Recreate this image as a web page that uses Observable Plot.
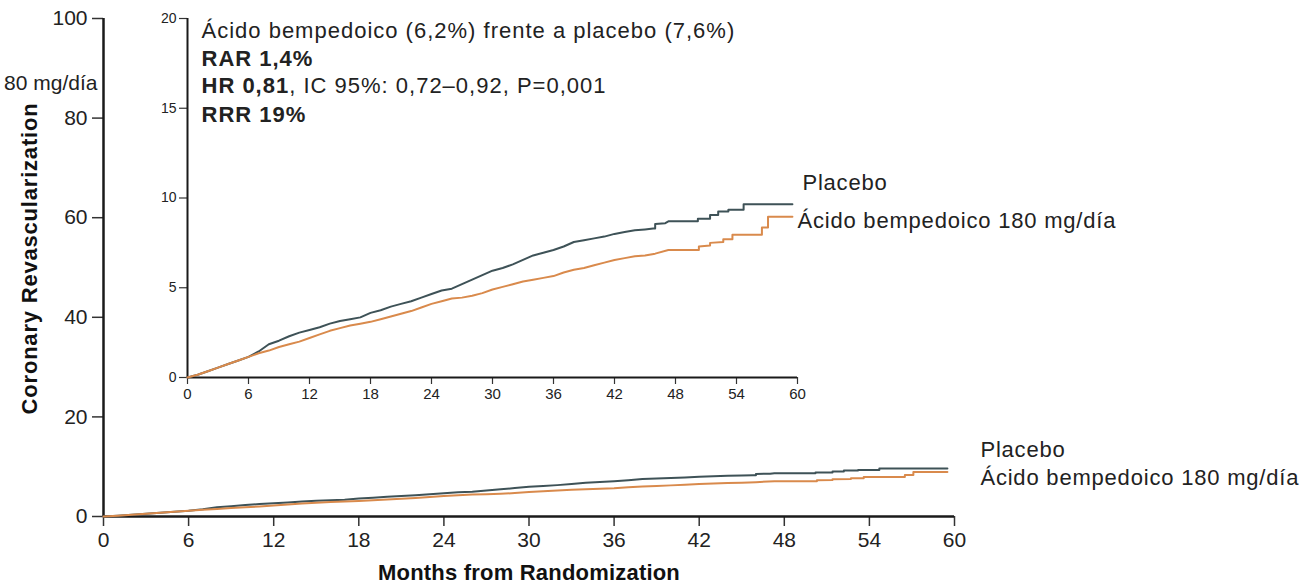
<!DOCTYPE html>
<html>
<head>
<meta charset="utf-8">
<script src="https://cdn.jsdelivr.net/npm/d3@7"></script>
<script src="https://cdn.jsdelivr.net/npm/@observablehq/plot@0.6"></script>
<style>
  html, body { margin: 0; padding: 0; background: #fff; }
  #wrap { position: relative; width: 1312px; height: 584px; overflow: hidden; }
  #wrap svg { position: absolute; left: 0; top: 0; overflow: visible; }
  #wrap g[aria-label="text"] text { letter-spacing: 0.8px; }
</style>
</head>
<body>
<div id="wrap"></div>
<script>
// ---- Data ----
const seriesNames = ["Placebo", "Ácido bempedoico 180 mg/día"];
const seriesColors = ["#3e5257", "#d98a4c"];

// months and cumulative incidence (%); repeated months mark vertical steps
const placeboMonths = [0,1,2,3,4,5,6,7,8,9,10,11,12,13,14,15,16,17,18,19,20,21,22,23,24,25,26,27,28,29,30,31,32,33,34,35,36,37,38,39,40,41,42,43,44,45,45.8,46,46,47,47.3,50.2,50.2,51.4,51.4,52.2,52.2,53.2,53.2,54.7,54.7,59.5];
const placeboValues = [0,0.15,0.35,0.55,0.75,0.95,1.15,1.45,1.85,2.05,2.3,2.5,2.65,2.8,3.0,3.15,3.25,3.35,3.6,3.75,3.95,4.1,4.25,4.45,4.65,4.85,4.95,5.2,5.45,5.7,5.95,6.1,6.3,6.55,6.8,6.95,7.1,7.3,7.55,7.65,7.75,7.85,8.0,8.1,8.2,8.25,8.3,8.3,8.55,8.6,8.7,8.7,8.85,8.85,9.05,9.05,9.25,9.25,9.35,9.35,9.65,9.65];

const bempMonths = [0,1,2,3,4,5,6,7,8,9,10,11,12,13,14,15,16,17,18,19,20,21,22,23,24,25,26,27,28,29,30,31,32,33,34,35,36,37,38,39,40,41,42,43,44,45,46,47.3,50.3,50.3,51.4,51.4,52.7,52.7,53.6,53.6,56.5,56.5,57.1,57.1,59.5];
const bempValues = [0,0.15,0.35,0.55,0.75,0.95,1.15,1.35,1.5,1.7,1.85,2.0,2.2,2.4,2.6,2.75,2.9,3.0,3.1,3.25,3.4,3.55,3.7,3.9,4.1,4.25,4.4,4.45,4.55,4.7,4.9,5.05,5.2,5.35,5.45,5.55,5.65,5.85,6.0,6.1,6.25,6.4,6.55,6.65,6.75,6.8,6.9,7.1,7.1,7.3,7.35,7.5,7.55,7.7,7.7,7.95,7.95,8.35,8.35,8.95,8.95];

const monthTicks = [0,6,12,18,24,30,36,42,48,54,60];
const mainYTicks = [0,20,40,60,80,100];
const insetYTicks = [0,5,10,15,20];

const yAxisTitle = "Coronary Revascularization";
const xAxisTitle = "Months from Randomization";
const clippedLabel = "80 mg/día";

const statLine1 = "Ácido bempedoico (6,2%) frente a placebo (7,6%)";
const statRAR = "RAR 1,4%";
const statHRBold = "HR 0,81";
const statHRRest = ", IC 95%: 0,72–0,92, P=0,001";
const statRRR = "RRR 19%";

// ---- Build tables ----
const rows = [];
placeboMonths.forEach((m, i) => rows.push({series: seriesNames[0], month: m, value: placeboValues[i]}));
bempMonths.forEach((m, i) => rows.push({series: seriesNames[1], month: m, value: bempValues[i]}));
const ends = [
  {series: seriesNames[0], month: placeboMonths.at(-1), value: placeboValues.at(-1)},
  {series: seriesNames[1], month: bempMonths.at(-1), value: bempValues.at(-1)}
];

const FONT = "'Liberation Sans', Arial, Helvetica, sans-serif";
const color = {domain: seriesNames, range: seriesColors};
const STAT_FS = 22, STAT_LS = 1;

// width of the bold "HR 0,81" run, to place the regular rest after it
const ctx = document.createElement("canvas").getContext("2d");
ctx.font = `bold ${STAT_FS}px 'Liberation Sans'`;
const hrBoldWidth = ctx.measureText(statHRBold).width + STAT_LS * statHRBold.length;

// ---- Main chart ----
const main = Plot.plot({
  width: 1312, height: 584,
  marginLeft: 103, marginRight: 358, marginTop: 18, marginBottom: 68,
  style: {fontFamily: FONT, background: "transparent", color: "#222"},
  x: {domain: [0, 60]},
  y: {domain: [0, 100]},
  color,
  marks: [
    Plot.axisX({ticks: monthTicks, tickSize: 10, tickPadding: 6, fontSize: 21, label: null, stroke: "#333", strokeWidth: 1.5}),
    Plot.axisY({ticks: mainYTicks, tickSize: 11, tickPadding: 5, fontSize: 21, label: null, stroke: "#333", strokeWidth: 1.5}),
    Plot.ruleX([0], {stroke: "#1a1a1a", strokeWidth: 2.5}),
    Plot.ruleY([0], {stroke: "#1a1a1a", strokeWidth: 2.5}),
    Plot.line(rows, {x: "month", y: "value", z: "series", stroke: "series", strokeWidth: 2}),
    Plot.text(ends, {x: "month", y: "value", text: "series", textAnchor: "start", dx: 33,
      fontSize: 22, fill: "#222", filter: (d) => d.series === seriesNames[0], dy: -18}),
    Plot.text(ends, {x: "month", y: "value", text: "series", textAnchor: "start", dx: 33,
      fontSize: 22, fill: "#222", filter: (d) => d.series === seriesNames[1], dy: 6}),
    Plot.text([yAxisTitle], {frameAnchor: "left", dx: -74, dy: -9, rotate: -90, textAnchor: "middle", lineAnchor: "middle", fontSize: 22, fontWeight: "bold", fill: "#111"}),
    Plot.text([xAxisTitle], {frameAnchor: "bottom", dy: 56, textAnchor: "middle", lineAnchor: "middle", fontSize: 22, fontWeight: "bold", fill: "#111"}),
    Plot.text([clippedLabel], {frameAnchor: "top-left", dx: -6, dy: 65, textAnchor: "end", lineAnchor: "middle", fontSize: 21, fill: "#222"})
  ]
});

// ---- Inset chart ----
const statOpts = (dy, extra = {}) => ({frameAnchor: "top-left", dx: 14, dy, textAnchor: "start", lineAnchor: "middle", fontSize: STAT_FS, fill: "#222", ...extra});
const inset = Plot.plot({
  width: 1312, height: 584,
  marginLeft: 187, marginRight: 515, marginTop: 18, marginBottom: 207,
  style: {fontFamily: FONT, background: "transparent", color: "#222"},
  x: {domain: [0, 60]},
  y: {domain: [0, 20]},
  color,
  marks: [
    Plot.axisX({ticks: monthTicks, tickSize: 7, tickPadding: 4, fontSize: 15, label: null, stroke: "#333", strokeWidth: 1.2}),
    Plot.axisY({ticks: insetYTicks, tickSize: 8, tickPadding: 3, fontSize: 14, label: null, stroke: "#333", strokeWidth: 1.2}),
    Plot.ruleX([0], {stroke: "#1a1a1a", strokeWidth: 2}),
    Plot.ruleY([0], {stroke: "#1a1a1a", strokeWidth: 2}),
    Plot.line(rows, {x: "month", y: "value", z: "series", stroke: "series", strokeWidth: 2}),
    Plot.text(ends, {x: "month", y: "value", text: "series", textAnchor: "start", dx: 10,
      fontSize: 22, fill: "#222", filter: (d) => d.series === seriesNames[0], dy: -21}),
    Plot.text(ends, {x: "month", y: "value", text: "series", textAnchor: "start", dx: 5,
      fontSize: 22, fill: "#222", filter: (d) => d.series === seriesNames[1], dy: 4}),
    Plot.text([statLine1], statOpts(12)),
    Plot.text([statRAR], statOpts(40, {fontWeight: "bold"})),
    Plot.text([statHRBold], statOpts(67, {fontWeight: "bold"})),
    Plot.text([statHRRest], statOpts(67, {dx: 14 + hrBoldWidth})),
    Plot.text([statRRR], statOpts(96, {fontWeight: "bold"}))
  ]
});

const wrap = document.getElementById("wrap");
wrap.appendChild(main);
wrap.appendChild(inset);
// per-text tracking tweaks
const statTexts = new Set([statLine1, statRAR, statHRBold, statHRRest, statRRR]);
d3.select(inset).selectAll('g[aria-label="text"] text').each(function() {
  if (statTexts.has(this.textContent)) this.style.letterSpacing = STAT_LS + "px";
});
d3.select(main).selectAll('g[aria-label="text"] text').each(function() {
  if (this.textContent === xAxisTitle) this.style.letterSpacing = "0.2px";
  if (this.textContent === clippedLabel) this.style.letterSpacing = "0px";
});
</script>
</body>
</html>
